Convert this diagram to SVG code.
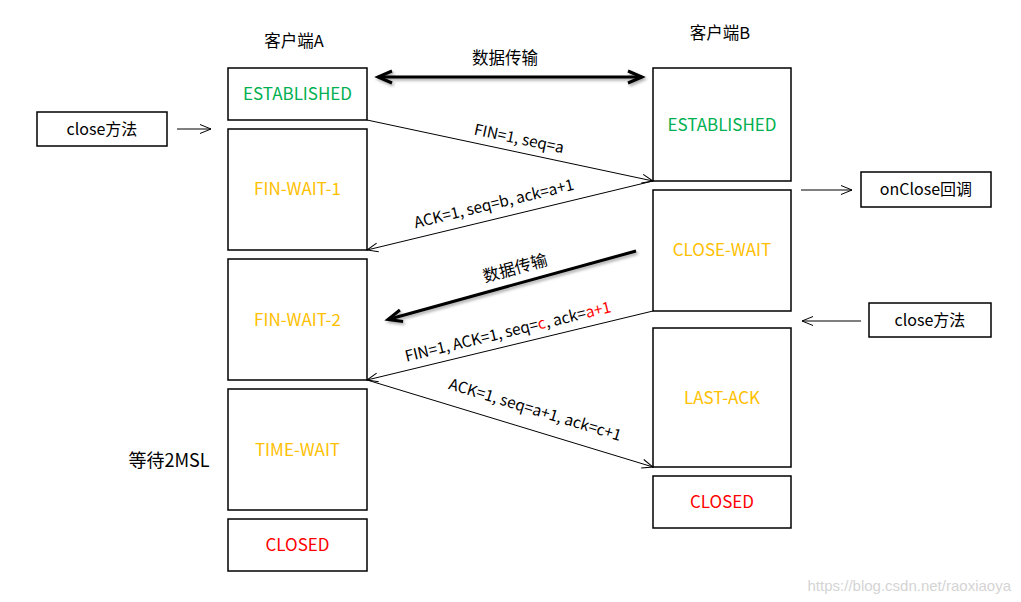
<svg xmlns="http://www.w3.org/2000/svg" width="1021" height="602" viewBox="0 0 1021 602">
<style>
.box{fill:#fff;stroke:#000;stroke-width:1.5}
.t{font-family:"Noto Sans CJK SC","Liberation Sans",sans-serif;text-anchor:middle}
.st{font-size:17px}
.g{fill:#00B050}.o{fill:#FFC000}.r{fill:#FF0000}.k{fill:#000}
.lbl{font-size:15.4px;fill:#000}
.cj{font-size:16px;fill:#000}
.thin{stroke:#000;stroke-width:1;fill:none}
.thick{stroke:#000;stroke-width:3;fill:none}
</style>
<defs>
<marker id="ah" markerUnits="userSpaceOnUse" markerWidth="24" markerHeight="24" viewBox="-12 -12 24 24" refX="0" refY="0" orient="auto-start-reverse">
<path d="M-11,-4.5 L0,0 L-11,4.5" fill="none" stroke="#000" stroke-width="1"/>
</marker>
<marker id="th" markerUnits="userSpaceOnUse" markerWidth="40" markerHeight="40" viewBox="-20 -20 40 40" refX="0" refY="0" orient="auto-start-reverse">
<path d="M-14,-6 L0,0 L-14,6" fill="none" stroke="#000" stroke-width="3" stroke-linejoin="miter"/>
</marker>
<filter id="sh" x="-20%" y="-50%" width="140%" height="200%">
<feDropShadow dx="1.5" dy="2" stdDeviation="1.5" flood-color="#000" flood-opacity="0.35"/>
</filter>
</defs>
<rect width="1021" height="602" fill="#fff"/>

<text class="t cj" x="294" y="47" style="font-size:16.5px">客户端A</text>
<text class="t cj" x="720" y="39" style="font-size:16.5px">客户端B</text>
<text class="t cj" x="169" y="467" style="font-size:18px">等待2MSL</text>

<g id="a-established"><rect class="box" x="228" y="68" width="139" height="52"/><text class="t st g" x="297.5" y="100">ESTABLISHED</text></g>
<g id="a-finwait1"><rect class="box" x="228" y="129" width="139" height="121"/><text class="t st o" x="297.5" y="195">FIN-WAIT-1</text></g>
<g id="a-finwait2"><rect class="box" x="228" y="259" width="139" height="121"/><text class="t st o" x="297.5" y="326">FIN-WAIT-2</text></g>
<g id="a-timewait"><rect class="box" x="228" y="389" width="139" height="121"/><text class="t st o" x="297.5" y="456">TIME-WAIT</text></g>
<g id="a-closed"><rect class="box" x="228" y="519" width="139" height="52"/><text class="t st r" x="297.5" y="551">CLOSED</text></g>

<g id="b-established"><rect class="box" x="653" y="68" width="138" height="113"/><text class="t st g" x="722" y="131">ESTABLISHED</text></g>
<g id="b-closewait"><rect class="box" x="653" y="190" width="138" height="121"/><text class="t st o" x="722" y="256">CLOSE-WAIT</text></g>
<g id="b-lastack"><rect class="box" x="653" y="328" width="138" height="139"/><text class="t st o" x="722" y="404">LAST-ACK</text></g>
<g id="b-closed"><rect class="box" x="653" y="476" width="138" height="52"/><text class="t st r" x="722" y="508">CLOSED</text></g>

<g id="close-a"><rect class="box" x="37" y="112" width="130" height="34"/><text class="t cj" x="102" y="135">close方法</text></g>
<g id="onclose-b"><rect class="box" x="861" y="172" width="130" height="35"/><text class="t cj" x="926" y="195">onClose回调</text></g>
<g id="close-b"><rect class="box" x="869" y="303" width="122" height="34"/><text class="t cj" x="930" y="326">close方法</text></g>

<g id="connectors">
<line class="thin" x1="177" y1="129" x2="211" y2="129" marker-end="url(#ah)"/>
<line class="thin" x1="801" y1="190" x2="852" y2="190" marker-end="url(#ah)"/>
<line class="thin" x1="861" y1="321" x2="802" y2="321" marker-end="url(#ah)"/>
<line class="thin" x1="367" y1="120" x2="653" y2="181" marker-end="url(#ah)"/>
<line class="thin" x1="653" y1="181" x2="367" y2="250" marker-end="url(#ah)"/>
<line class="thin" x1="653" y1="311" x2="367" y2="380" marker-end="url(#ah)"/>
<line class="thin" x1="367" y1="380" x2="653" y2="467" marker-end="url(#ah)"/>
<g filter="url(#sh)">
<line class="thick" x1="378" y1="77" x2="642" y2="77" marker-start="url(#th)" marker-end="url(#th)"/>
<line class="thick" x1="636" y1="251" x2="388" y2="319.5" marker-end="url(#th)"/>
</g>
<text class="t cj" x="505" y="64" style="font-size:16.5px">数据传输</text>
<text class="t lbl" transform="translate(519,139) rotate(12)" y="5">FIN=1, seq=a</text>
<text class="t lbl" transform="translate(494,204) rotate(-13.6)" y="5">ACK=1, seq=b, ack=a+1</text>
<text class="t cj" transform="translate(515,268) rotate(-15.5)" y="6" style="font-size:16.5px">数据传输</text>
<text class="t lbl" transform="translate(508,332) rotate(-13.6)" y="5">FIN=1, ACK=1, seq=<tspan class="r">c</tspan>, ack=<tspan class="r">a+1</tspan></text>
<text class="t lbl" transform="translate(535,410) rotate(16.9)" y="5">ACK=1, seq=a+1, ack=c+1</text>
</g>
<text x="1011" y="591" font-family="Liberation Sans, sans-serif" font-size="15" fill="#d4d4d4" text-anchor="end">https://blog.csdn.net/raoxiaoya</text>
</svg>
